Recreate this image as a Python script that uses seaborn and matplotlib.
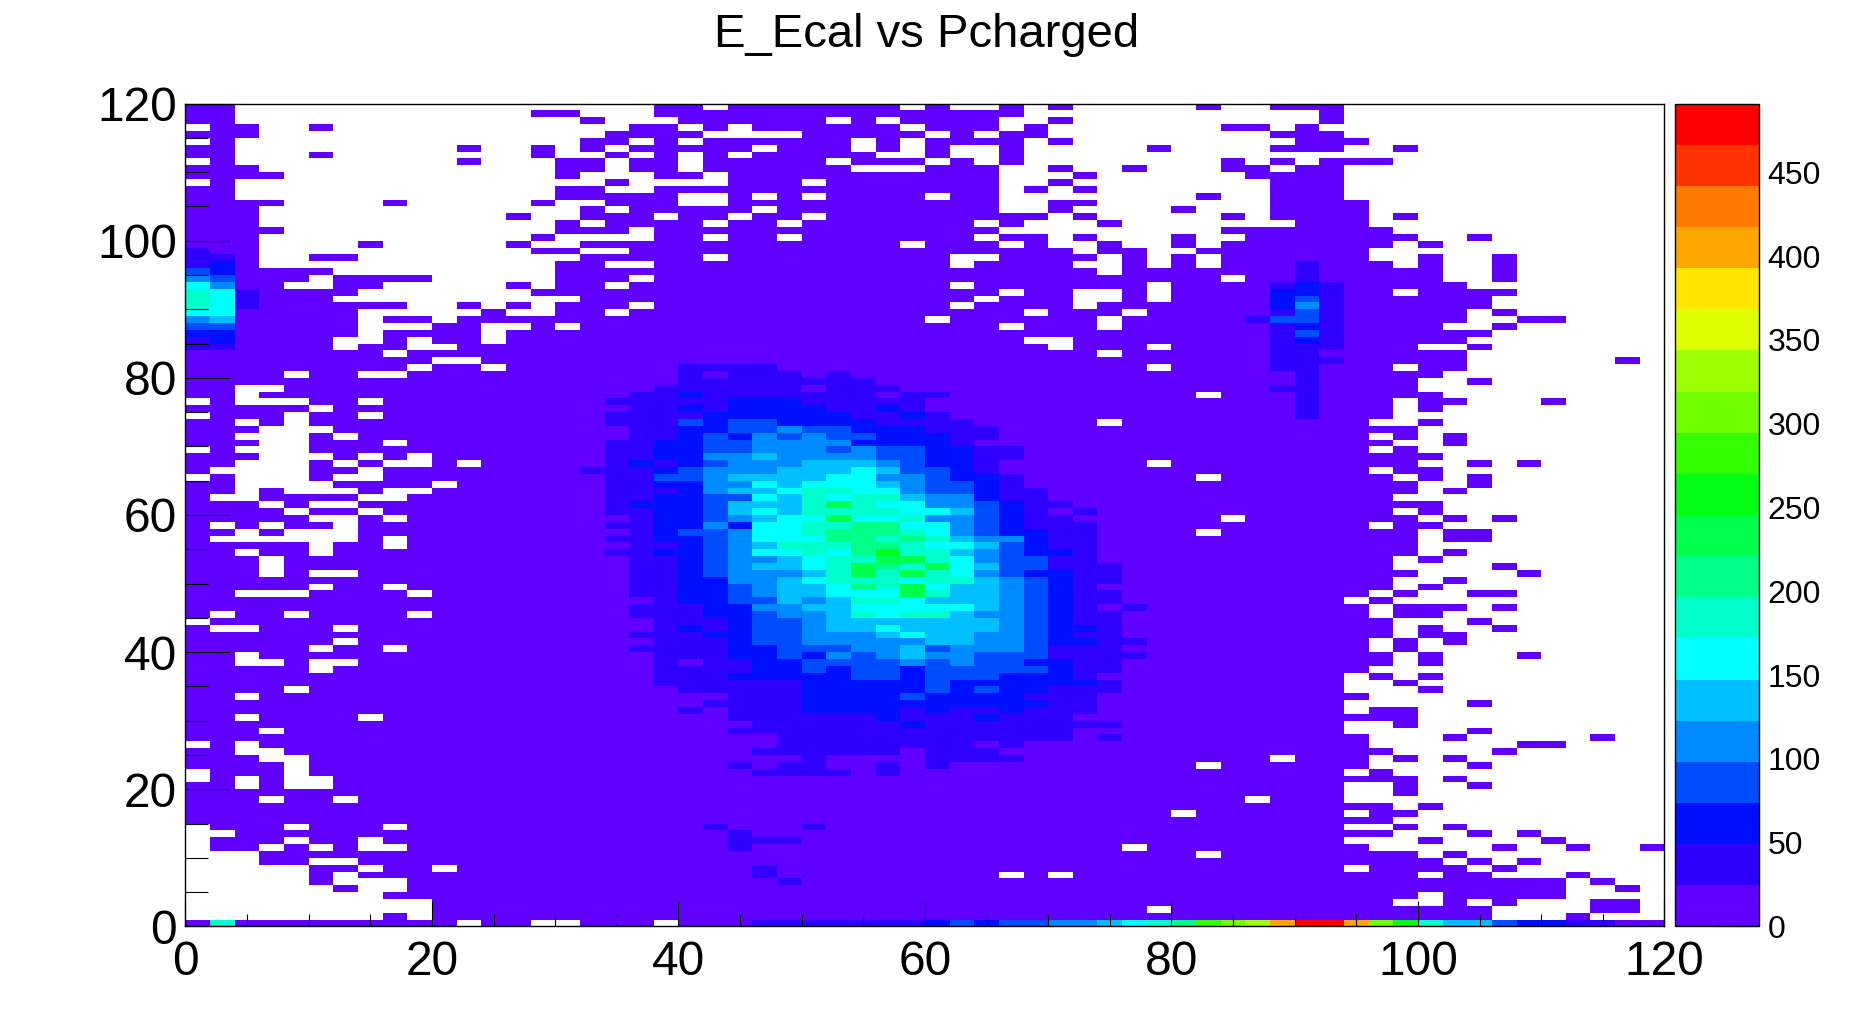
import numpy as np
import pandas as pd
import matplotlib
matplotlib.use("Agg")
import matplotlib.pyplot as plt
from matplotlib.colors import ListedColormap, BoundaryNorm
import seaborn as sns

# binning: Pcharged on x (60 bins of 2), E_Ecal on y (120 bins of 1)
x_edges = np.arange(0, 122, 2)
y_edges = np.arange(0, 121, 1)
z_max = 491.0          # histogram maximum (top of the palette)
n_levels = 20

level_colors = ["#6000ff", "#3000ff", "#0010ff", "#004cff", "#008aff",
                "#00c0ff", "#00ffff", "#00ffcc", "#00ff88", "#00ff4c",
                "#00ff12", "#33ff00", "#72ff00", "#9fff00", "#ddff00",
                "#ffe600", "#ffa500", "#ff7a00", "#ff3300", "#ff0000"]
level_keys = "0123456789abcdefghij"   # colour band of each bin, '.' = empty

# bins, one string per y bin from y=119 (top) to y=0
rows = [
    "00... ..... ..... ....0 0.000 0000. | 0..0. 0.... .0..0 00... ..... .....",
    "00... ..... ....0 0...0 00000 00000 | 0000. ..... ..... .0... ..... .....",
    "00... ..... ..... .0... 00000 0.0.0 | 000.. 0.... ..... .0... ..... .....",
    ".00.. 0.... ..... ...00 .0.00 0000. | 000.0 ..... ..00. 0.... ..... .....",
    "000.. ..... ..... ..000 0.... 00000 | .0.00 ..... ....0 00... ..... .....",
    ".0... ..... ..... .00.0 .0000 00.0. | 0000. 0.... ..... 000.. ..... .....",
    "00... ..... .0..0 .0.00 000.0 00.0. | 0..0. ....0 ....0 00..0 ..... .....",
    "00... 0.... ....0 ..0.0 .0.00 000.. | 0..0. ..... ..... ..... ..... .....",
    ".0... ..... .0... 00.00 .0000 0.000 | .0.0. ..... ..0.0 .000. ..... .....",
    "000.. ..... ..... 00.00 .0000 00... | 000.. 0..0. ..00. 00... ..... .....",
    "0000. ..... ..... 0...0 0.000 00000 | 000.. .0... ...00 00... ..... .....",
    ".0... ..... ..... ..0.. ..000 .0000 | 000.. 0.... ....0 00... ..... .....",
    "00... ..... ..... 00..0 00000 00000 | 000.0 .0... ....0 00... ..... .....",
    "00... ..... ..... 00000 ..0.0 .0000 | .00.. ..... .0..0 00... ..... .....",
    "0000. ...0. ....0 ..000 ..000 00000 | 000.. 00... ....0 000.. ..... .....",
    "000.. ..... ..... .0.00 000.0 00000 | 000.. 0.... 0...0 000.. ..... .....",
    "000.. ..... ...0. .000. 00.00 .0000 | 00000 .0... ..0.0 000.0 ..... .....",
    "000.. ..... ..... 0.000 0.00. 00000 | 00.0. ..0.. ..... 000.. ..... .....",
    "0000. ..... ..... 000.0 00000 00000 | 000.. ..... ..000 0000. ..... .....",
    "000.. ..... ....0 ....0 0.00. 00000 | 00.00 .0... 0..00 00000 ..0.. .....",
    "000.. ..0.. ...0. .0000 00000 0000. | 000.0 ..0.. 0.000 0000. 0.... .....",
    "100.. ..... ....0 0..00 00000 00000 | 00000 0.00. .0000 000.. ..... .....",
    "110.. 00... ..... .0000 0.000 00000 | 0..00 00.0. 0.000 000.. 0..0. .....",
    "120.. ..... ..... 00..0 00000 00000 | 0.000 0..0. 0.000 1000. 0..0. .....",
    "32000 0.... ..... 00000 00000 00000 | 00000 00.00 00000 10000 0..0. .....",
    "43000 .0000 ..... 000.0 00000 00000 | 00000 00000 00.00 10000 0..0. .....",
    "6400. .00.. ...0. 00.00 00000 00000 | 0.000 0000. 00001 21000 00... .....",
    "76100 00... ....0 00000 00000 00000 | 000.0 0..0. 00002 2100. 0000. .....",
    "76100 0.... ..... .0000 00000 00000 | 00.00 0..0. 00002 31000 000.. .....",
    "76100 0000. .0.0. 000.0 00000 00000 | 0.000 0.000 00002 41000 000.. .....",
    "66000 00... ..0.. 00.00 00000 00000 | 0000. 000.0 00001 31000 00.0. .....",
    "45000 00.00 .0000 00000 00000 00000 | .0000 00.00 00013 31000 00..0 0....",
    "33000 00... 00..0 .0000 00000 00000 | 000.0 00.00 00001 21000 0..0. .....",
    "22000 00.00 00.00 00000 00000 00000 | 00000 00000 00001 31000 000.. .....",
    "12000 0..0. 00.00 00000 00000 00000 | 0000. .0000 00001 21000 00... .....",
    "11000 0.00. .0000 00000 00000 00000 | 00000 .000. 00001 11000 ..0.. .....",
    "00000 000.0 00000 00000 00000 00000 | 00000 00.00 00001 10000 00... .....",
    "00000 00000 ..000 00000 00000 00000 | 00000 00000 00001 11000 00... ...0.",
    "00000 0000. 00.00 00000 00000 00000 | 00000 0000. 00001 1000. 00... .....",
    "0000. 00..0 00000 00000 00000 00000 | 00000 00000 00000 10000 0.... .....",
    "00000 00000 00000 00000 00000 00000 | 00000 00000 00000 10000 ..0.. .....",
    "00..0 00000 00000 00000 00000 00000 | 00000 00000 00001 10000 ..... .....",
    "00.00 00000 00000 00000 00000 00000 | 10000 00000 0.000 10000 0.... .....",
    ".0... 00.00 00000 00000 00000 00000 | 00000 00000 00000 1000. 00... 0....",
    "00000 .0000 00000 00000 00000 00000 | 00000 00000 00000 1000. 0.... .....",
    ".000. 00.00 00000 00000 00000 00000 | 10000 00000 00000 1000. ..... .....",
    "00.0. 00000 00000 00000 00000 00000 | 00000 00.00 00000 000.. 0.... .....",
    "000.. .0000 00000 00000 00000 00000 | 11000 00000 00000 00000 ..... .....",
    "00... 0.000 00000 00000 00000 00000 | 11100 00000 00000 000.0 .0... .....",
    "000.. 000.0 00000 00000 00000 00000 | 21000 00000 00000 0000. .0... .....",
    ".0... 00000 00000 00000 00000 00000 | 22110 00000 00000 000.0 ..... .....",
    "000.. .0.0. 00000 00000 00000 00000 | 22110 00000 00000 00000 0.... .....",
    "00... 0.0.. 0.000 00000 00000 00000 | 22100 0000. 00000 00000 ..0.0 .....",
    "0.... 00.00 00000 00000 00000 00000 | 32110 00000 00000 000.0 0.... .....",
    ".0... 0..00 00000 00000 00000 00000 | 32110 00000 0.000 0000. 0.0.. .....",
    "00... .0000 .0000 00000 00000 00000 | 33210 00000 00000 00000 ..0.. .....",
    "00.0. ..0.. 00000 00000 00000 00000 | 33211 00000 00000 00000 .0... .....",
    "0..00 00..0 00000 00000 00000 00000 | 44211 00000 00000 0000. ..... .....",
    "000.0 ..000 00000 00000 00000 00000 | 44321 10000 00000 00000 0.... .....",
    "0000. 00.00 00000 00000 00000 00000 | 65321 01000 00000 0000. 0.... .....",
    "00000 ..0.0 00000 00000 00000 00000 | 00000 00000 00.00 00000 .0.0. .....",
    "0.0.0 0.000 00000 00000 00000 00000 | 00000 00000 00000 000.0 0.... .....",
    "00.0. ..000 00000 00000 00000 00000 | 00000 00000 0.000 00000 .00.. .....",
    "0.... ..0.0 00000 00000 00000 00000 | 00000 00000 00000 00000 .00.. .....",
    "00000 .00.0 00000 00000 00000 00000 | 00000 00000 00000 00000 ..... .....",
    "00.00 .0000 00000 00000 00000 00000 | 00000 00000 00000 00000 .0... .....",
    "000.0 00000 00000 00000 00000 00000 | 00000 00000 00000 0000. 0.... .....",
    "000.0 00000 00000 00000 00000 00000 | 00000 00000 00000 0000. ...0. .....",
    "000.0 ..000 00000 00000 00000 00000 | 00000 00000 00000 00000 ....0 .....",
    "00000 00000 00000 00000 00000 00000 | 00000 00000 00000 0000. .0... .....",
    "00000 .00.0 00000 00000 00000 00000 | 00000 00000 00000 0000. 0.... .....",
    "00... 0000. 00000 00000 00000 00000 | 00000 00000 00000 000.0 ..00. .....",
    "00000 00000 00000 00000 00000 00000 | 00000 00000 00000 00.0. ..... .....",
    "00000 00000 00000 00000 00000 00000 | 00000 00000 00000 000.0 00.0. .....",
    "0.00. 0000. 00000 00000 00000 00000 | 00000 00000 00000 000.0 0.... .....",
    ".0000 00000 00000 00000 00000 00000 | 00000 00000 00000 0000. ..0.. .....",
    "0..00 0.000 00000 00000 00000 00000 | 00000 00000 00000 0000. 0..0. .....",
    "00000 00000 00000 00000 00000 00000 | 00000 00000 00000 0000. 00... .....",
    "00000 0.000 00000 00000 00000 00000 | 00000 00000 00000 000.0 .0... .....",
    "00000 .00.0 00000 00000 00000 00000 | 00000 00000 00000 000.0 ..... .....",
    "00.00 00000 00000 00000 00000 00000 | 00000 00000 00000 0000. 0...0 .....",
    "00..0 ..000 00000 00000 00000 00000 | 00000 00000 00000 0000. 0.... .....",
    "00000 .0000 00000 00000 00000 00000 | 00000 00000 00000 000.. ..... .....",
    "00000 00000 00000 00000 00000 00000 | 00000 00000 00000 00.0. 0.... .....",
    "00000 00000 00000 00000 00000 00000 | 00000 00000 00000 00..0 ..... .....",
    "0000. 00000 00000 00000 00000 00000 | 00000 00000 00000 00... 0.... .....",
    "00.00 00000 00000 00000 00000 00000 | 00000 00000 00000 000.. ..... .....",
    "00000 00000 00000 00000 00000 00000 | 00000 00000 00000 00... ..0.. .....",
    "00000 00000 00000 00000 00000 00000 | 00000 00000 00000 00.00 ..... .....",
    "00.00 00.00 00000 00000 00000 00000 | 00000 00000 00000 00000 ..... .....",
    "00000 00000 00000 00000 00000 00000 | 00000 00000 00000 00..0 ..... .....",
    "000.0 00000 00000 00000 00000 00000 | 00000 00000 00000 00... ..0.. .....",
    "00000 00000 00000 00000 00000 00000 | 00000 00000 00000 000.. .0... ..0..",
    ".0.00 00000 00000 00000 00000 00000 | 00000 00000 00000 000.. ....0 0....",
    "00..0 00000 00000 00000 00000 00000 | 00000 00000 00000 0000. ...0. .....",
    "000.. 00000 00000 00000 00000 00000 | 00000 00000 0000. 000.0 .0... .....",
    "0000. 00000 00000 00000 00000 00000 | 00000 00000 0.000 000.. ..0.. .....",
    ".000. 00000 00000 00000 00000 00000 | 00000 00000 00000 00.0. ..... .....",
    ".0.0. .0000 00000 00000 00000 00000 | 00000 00000 00000 00000 .0... .....",
    "00.0. .0000 00000 00000 00000 00000 | 00000 00000 00000 00..0 ..0.. .....",
    "00000 00000 00000 00000 00000 00000 | 00000 00000 00000 00..0 ..... .....",
    "000.0 0.000 00000 00000 00000 00000 | 00000 00000 000.0 00... ..... .....",
    "00000 00000 00000 00000 00000 00000 | 00000 00000 00000 0000. 0.... .....",
    "00000 00000 00000 00000 00000 00000 | 00000 00000 .0000 00.00 ..... .....",
    "00000 00000 00000 00000 00000 00000 | 00000 00000 00000 0000. ..... .....",
    ".000. 000.0 00000 00000 01000 10000 | 00000 00000 00000 00..0 .0... .....",
    "..000 00000 00000 00000 00100 00000 | 00000 00000 00000 0000. ..0.0 .....",
    ".000. 00.00 00000 00000 00111 00000 | 00000 00000 00000 00... 0.... 0....",
    ".00.0 .0..0 00000 00000 00100 00000 | 00000 000.0 00000 000.. ...0. .0..0",
    "...00 00000 00000 00000 00000 00000 | 00000 00000 0.000 00000 .0... .....",
    "...00 ..000 00000 00000 00000 00000 | 00000 00000 00000 00000 0.0.0 .....",
    "..... 00.00 .0000 00000 00010 00000 | 00000 00000 00000 00.00 00.0. .....",
    "..... 0.000 00000 00000 00010 00000 | 000.0 .0000 00000 00000 .00.. .0...",
    "..... 0...0 00000 00000 00001 00000 | 00000 00000 00000 00000 00000 0.0..",
    "..... .0..0 00000 00000 00000 00000 | 00000 00000 00000 00000 00000 0..0.",
    "..... ...00 00000 00000 00000 00000 | 00000 00000 00000 00000 .0000 0....",
    "..... ..... 00000 00000 00000 00000 | 00000 00000 00000 0000. .0.0. ..00.",
    "..... ..... 00000 00000 00000 00000 | 00000 0000. 00000 00000 000.. ..00.",
    "..... ...0. 00000 00000 00000 00000 | 00000 00000 00000 00000 000.. .0...",
    "07000 00000 0.00. .000. 00011 11111 | 23233 44567 8bcdg jjgca 75532 21100",
]

# bright core of the distribution, x bins 16..38 (x 32-78), y 81 down to 22
core_col0 = 16
core_row0 = 38
core = [
    "00 00111 10000 00000 00000 0", "00 00101 11010 00000 00000 0",
    "00 00111 11111 00000 00000 0", "00 01111 11011 10000 00000 0",
    "00 11211 11111 01100 00000 0", "01 11112 22111 11000 00000 0",
    "00 11212 22211 21000 00000 0", "01 11122 22221 12100 00000 0",
    "01 11323 32222 11110 0000. 0", "00 11223 34332 22111 00000 0",
    "00 11232 43433 22211 00000 0", "01 12233 44442 22210 00000 0",
    "01 12233 44434 33221 10000 0", "01 12244 54444 33221 10000 0",
    "01 21234 44555 43221 00000 0", "11 12344 45556 53321 00000 0",
    "01 13345 55566 44322 10000 0", "01 12244 65666 54332 10000 0",
    "01 11245 56776 64332 11000 0", "01 12233 65767 75442 11000 0",
    "01 22235 55797 66443 21100 0", "01 12235 65777 76653 21010 0",
    "00 12234 56696 67443 21100 0", "01 12242 66778 86643 21110 0",
    "00 12334 66788 87643 22110 0", "01 12234 66688 78754 42110 0",
    "00 11234 57778 87665 32110 0", "01 12234 66768 a7754 32210 0",
    "00 11234 45677 99764 33110 0", "00 11234 55679 87965 33111 0",
    "00 11234 44579 79764 32211 0", "00 11224 45677 76775 43211 0",
    "00 11223 45568 79655 43210 0", "00 11223 45566 69755 43211 0",
    "00 01223 35457 76555 43211 0", "00 11122 44556 66665 43210 1",
    "00 11122 34457 67754 43211 0", "00 01112 33455 55555 43211 0",
    "00 01212 33455 65555 43221 0", "00 11122 33444 56554 43211 0",
    "00 01112 33444 44554 43221 1", "00 11112 23334 45344 43111 0",
    "00 01112 23243 45443 33111 1", "00 01011 22333 34343 32211 0",
    "00 01111 22323 32333 33211 0", "00 01112 22223 32333 22210 0",
    "00 01111 11222 22322 22221 0", "00 00111 11222 22323 22111 0",
    "00 00001 11222 23222 21110 0", "00 00011 11222 22222 22110 0",
    "00 00101 11222 21211 21110 0", "00 00001 11111 21112 11100 0",
    "00 00000 11111 12111 11111 0", "00 00001 11111 11111 11100 0",
    "00 00000 01111 11111 11101 0", "00 00000 01111 11110 10000 0",
    "00 00000 11111 10111 00000 0", "00 00000 00100 00111 10000 0",
    "00 00001 01100 10100 00000 0", "00 00000 11110 10000 00000 0",
]

n_x = len(x_edges) - 1
n_y = len(y_edges) - 1
grid = []
for r in rows:
    s = r.replace(" ", "").replace("|", "")
    assert len(s) == n_x, (r, len(s))
    grid.append(list(s))
grid = np.array(grid)
assert grid.shape == (n_y, n_x)
for i, r in enumerate(core):
    s = r.replace(" ", "")
    grid[core_row0 + i, core_col0:core_col0 + len(s)] = list(s)

band = z_max / n_levels
counts = np.full(grid.shape, np.nan)
filled = grid != "."
counts[filled] = [(level_keys.index(c) + 0.5) * band for c in grid[filled]]

x_centers = 0.5 * (x_edges[:-1] + x_edges[1:])
y_centers = 0.5 * (y_edges[:-1] + y_edges[1:])
df = pd.DataFrame(counts, index=y_centers[::-1], columns=x_centers)

sns.set_style("white")
plt.rcParams["font.family"] = ["Liberation Sans", "DejaVu Sans"]

cmap = ListedColormap(level_colors)
norm = BoundaryNorm(np.linspace(0, z_max, n_levels + 1), n_levels)

fig = plt.figure(figsize=(18.51, 10.30), dpi=100)
ax = fig.add_axes([0.1002, 0.1005, 0.7990, 0.7990])
cax = fig.add_axes([0.9049, 0.1005, 0.0454, 0.7990])

sns.heatmap(df, ax=ax, cbar_ax=cax, cmap=cmap, norm=norm,
            xticklabels=False, yticklabels=False)

ax.set_axisbelow(False)
for s in ax.spines.values():
    s.set_visible(True)
    s.set_linewidth(1.0)
    s.set_color("black")

dx = x_edges[1] - x_edges[0]
dy = y_edges[1] - y_edges[0]
def xpos(v):
    return (np.asarray(v) - x_edges[0]) / dx
def ypos(v):
    return (y_edges[-1] - np.asarray(v)) / dy

major = np.arange(0, 121, 20)
minor = np.arange(0, 121, 5)
ax.set_xticks(xpos(major))
ax.set_xticklabels([str(v) for v in major])
ax.set_xticks(xpos(minor), minor=True)
ax.set_yticks(ypos(major))
ax.set_yticklabels([str(v) for v in major], rotation=0)
ax.set_yticks(ypos(minor), minor=True)

ax.tick_params(axis="x", which="major", direction="in", length=18, width=0.8,
               labelsize=34.5, pad=10, colors="black", bottom=True, top=False)
ax.tick_params(axis="x", which="minor", direction="in", length=9, width=0.8,
               colors="black", bottom=True, top=False)
ax.tick_params(axis="y", which="major", direction="in", length=32.4, width=0.8,
               labelsize=34.5, pad=6, colors="black", left=True, right=False)
ax.tick_params(axis="y", which="minor", direction="in", length=16.2, width=0.8,
               colors="black", left=True, right=False)
ax.set_xlabel("")
ax.set_ylabel("")

cb = ax.collections[0].colorbar
cb.set_ticks(np.arange(0, 451, 50))
cb.ax.minorticks_off()
cb.outline.set_linewidth(1.0)
cb.outline.set_edgecolor("black")
cax.tick_params(direction="in", length=31.7, width=0.8, labelsize=23,
                pad=6, colors="black")

fig.text(0.5008, 0.9544, "E_Ecal vs Pcharged", ha="center", va="baseline",
         fontsize=34, color="black")

fig.savefig("out.png", dpi=100)
